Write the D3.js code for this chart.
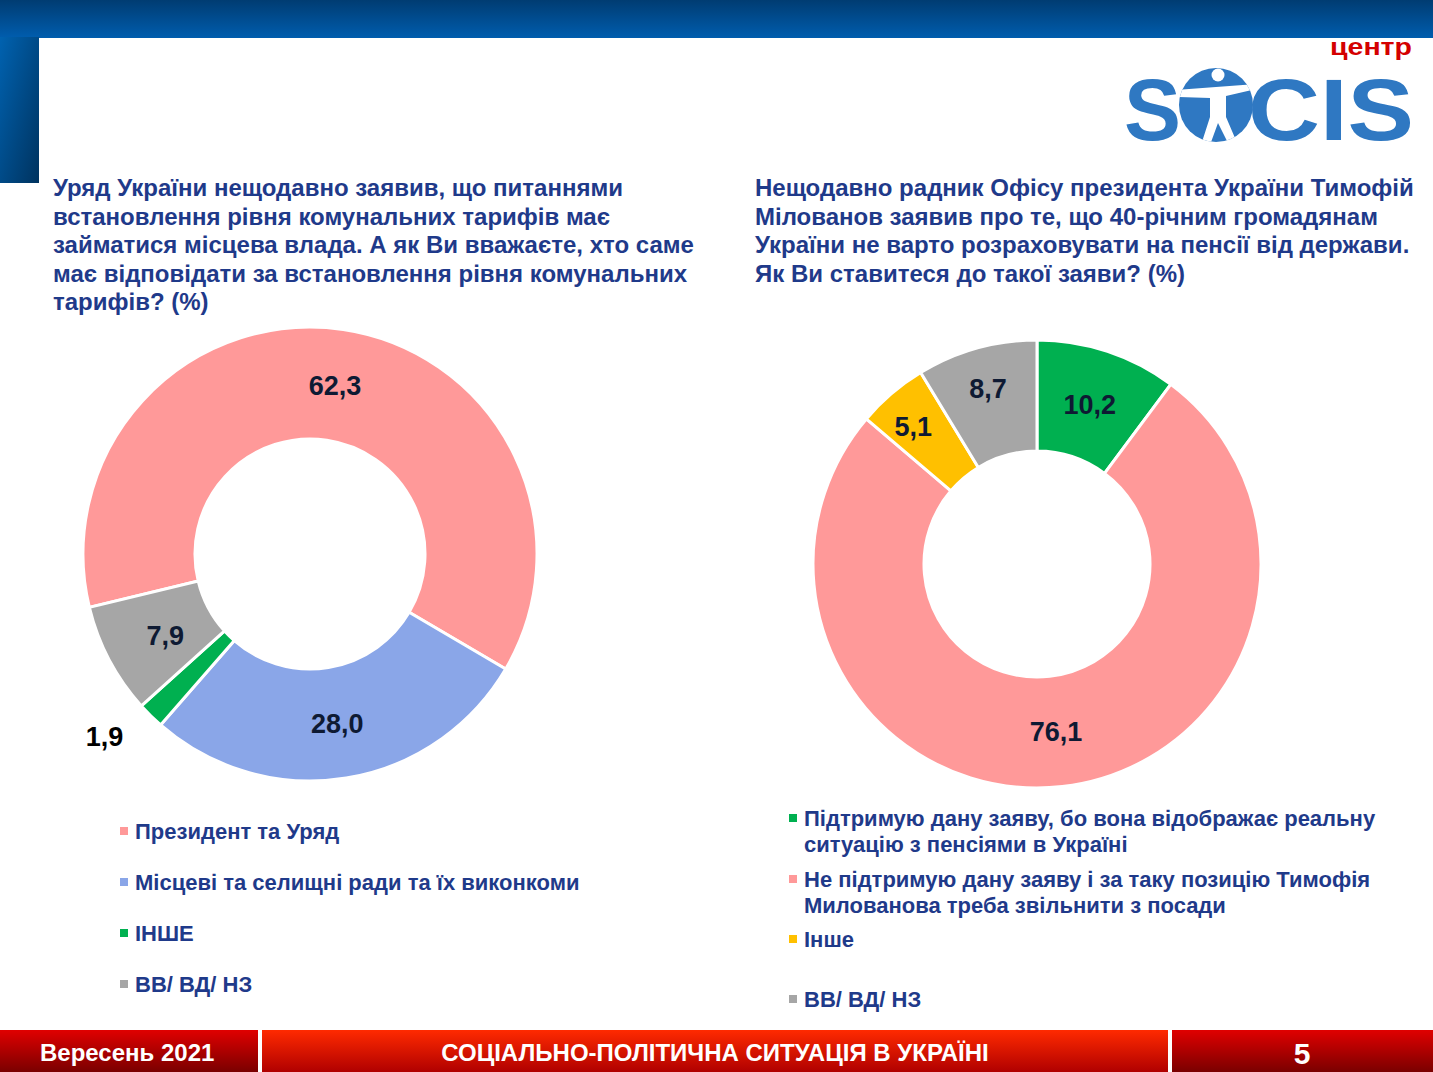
<!DOCTYPE html>
<html><head><meta charset="utf-8">
<script src="https://cdn.jsdelivr.net/npm/d3@7"></script>
<style>body{margin:0;background:#fff;} svg{display:block;font-family:"Liberation Sans",Arial,sans-serif;}</style>
</head><body>
<svg id="c" width="1433" height="1072"></svg>
<script>
// ---- data ----
const leftCategories = ["Президент та Уряд","Місцеві та селищні ради та їх виконкоми","ІНШЕ","ВВ/ ВД/ НЗ"];
const leftValues = [62.3, 28.0, 1.9, 7.9];
const leftLabels = ["62,3","28,0","1,9","7,9"];
const leftColors = ["#FF9999","#8AA6E8","#00B050","#A6A6A6"];

const rightCategories = [
  ["Підтримую дану заяву, бо вона відображає реальну","ситуацію з пенсіями в Україні"],
  ["Не підтримую дану заяву і за таку позицію Тимофія","Милованова треба звільнити з посади"],
  ["Інше"],
  ["ВВ/ ВД/ НЗ"]];
const rightValues = [10.2, 76.1, 5.1, 8.7];
const rightLabels = ["10,2","76,1","5,1","8,7"];
const rightColors = ["#00B050","#FF9999","#FFC000","#A6A6A6"];

const leftTitle = ["Уряд України нещодавно заявив, що питаннями","встановлення рівня комунальних тарифів має","займатися місцева влада. А як Ви вважаєте, хто саме","має відповідати за встановлення рівня комунальних","тарифів? (%)"];
const rightTitle = ["Нещодавно радник Офісу президента України Тимофій","Мілованов заявив про те, що 40-річним громадянам","України не варто розраховувати на пенсії від держави.","Як Ви ставитеся до такої заяви? (%)"];
const footerLeft = "Вересень 2021";
const footerMid = "СОЦІАЛЬНО-ПОЛІТИЧНА СИТУАЦІЯ В УКРАЇНІ";
const footerPage = "5";

const svg = d3.select("#c");
const defs = svg.append("defs");
const TEXT = "#1F3A8A", LBL = "#0E1A33";

// header gradients
const g1 = defs.append("linearGradient").attr("id","hdr").attr("x1",0).attr("y1",0).attr("x2",0).attr("y2",1);
g1.append("stop").attr("offset","0").attr("stop-color","#003C72");
g1.append("stop").attr("offset","1").attr("stop-color","#005DAE");
const g2 = defs.append("linearGradient").attr("id","side").attr("x1",0).attr("y1",0).attr("x2",1).attr("y2",1);
g2.append("stop").attr("offset","0").attr("stop-color","#0062B0");
g2.append("stop").attr("offset","1").attr("stop-color","#00335F");
const g3 = defs.append("linearGradient").attr("id","fmid").attr("x1",0).attr("y1",0).attr("x2",0).attr("y2",1);
g3.append("stop").attr("offset","0").attr("stop-color","#FF2A00");
g3.append("stop").attr("offset","1").attr("stop-color","#B00000");
const g4 = defs.append("linearGradient").attr("id","fside").attr("x1",0).attr("y1",0).attr("x2",0).attr("y2",1);
g4.append("stop").attr("offset","0").attr("stop-color","#E00000");
g4.append("stop").attr("offset","1").attr("stop-color","#7A0000");
defs.append("clipPath").attr("id","logoClip").append("circle").attr("cx",1216).attr("cy",105).attr("r",37);

svg.append("rect").attr("x",0).attr("y",0).attr("width",1433).attr("height",38).attr("fill","url(#hdr)");
svg.append("rect").attr("x",0).attr("y",37).attr("width",39).attr("height",146).attr("fill","url(#side)");

// logo
const blue = "#2F78C2";
const logo = svg.append("g");
logo.append("text").attr("x",1412).attr("y",55).attr("text-anchor","end").attr("fill","#D40000")
  .attr("font-weight","bold").attr("font-size",24).attr("textLength",82).attr("lengthAdjust","spacingAndGlyphs").text("центр");
logo.append("text").attr("x",1124).attr("y",140).attr("fill",blue).attr("font-weight","bold")
  .attr("font-size",88).attr("textLength",57).attr("lengthAdjust","spacingAndGlyphs").text("S");
logo.append("text").attr("x",1248).attr("y",140).attr("fill",blue).attr("font-weight","bold")
  .attr("font-size",88).attr("textLength",166).attr("lengthAdjust","spacingAndGlyphs").text("CIS");
logo.append("circle").attr("cx",1216).attr("cy",105).attr("r",37).attr("fill",blue);
const fig = logo.append("g").attr("clip-path","url(#logoClip)");
fig.append("circle").attr("cx",1218).attr("cy",75).attr("r",6.5).attr("fill","#fff");
fig.append("path").attr("fill","#fff")
  .attr("d","M1176,90 L1256,84 L1256,89 L1226,96 L1226,117 L1238,145 L1229,145 L1218,123 L1210,145 L1201,145 L1210,117 L1210,98 L1176,97 Z");

// titles
function title(lines, x) {
  const t = svg.append("text").attr("fill",TEXT).attr("font-weight","bold").attr("font-size",24);
  lines.forEach((l,i)=> t.append("tspan").attr("x",x).attr("y",196+i*28.5).text(l));
}
title(leftTitle, 53);
title(rightTitle, 755);

// donuts
function donut(cx, cy, rO, rI, values, colors, labels, startDeg, labelR, labelShift) {
  const pie = d3.pie().sort(null).value(d=>d)
    .startAngle(startDeg*Math.PI/180).endAngle(startDeg*Math.PI/180 + 2*Math.PI);
  const arcs = pie(values);
  const arc = d3.arc().innerRadius(rI).outerRadius(rO);
  const g = svg.append("g").attr("transform",`translate(${cx},${cy})`);
  g.selectAll("path").data(arcs).join("path").attr("d",arc)
    .attr("fill",(d,i)=>colors[i]).attr("stroke","#fff").attr("stroke-width",3);
  g.selectAll("text").data(arcs).join("text")
    .attr("transform",(d,i)=>{
      const a=(d.startAngle+d.endAngle)/2 + labelShift[i]*Math.PI/180, r=labelR[i];
      return `translate(${r*Math.sin(a)},${-r*Math.cos(a)})`;})
    .attr("text-anchor","middle").attr("dy","0.36em")
    .attr("fill",(d,i)=> labelR[i]>rO ? "#000" : LBL)
    .attr("font-weight","bold").attr("font-size",27).text((d,i)=>labels[i]);
}
donut(310, 554, 227, 115, leftValues, leftColors, leftLabels, -103.6, [171,171,275,166], [0,0,3.8,-1.5]);
donut(1037, 564, 224, 113, rightValues, rightColors, rightLabels, 0, [168,168,185,182], [0,0,-1.5,0]);

// legends
function legend(items, colors, x, ys) {
  items.forEach((lines,i)=>{
    const arr = Array.isArray(lines)?lines:[lines];
    svg.append("rect").attr("x",x).attr("y",ys[i]-4).attr("width",8).attr("height",8).attr("fill",colors[i]);
    const t = svg.append("text").attr("fill",TEXT).attr("font-weight","bold").attr("font-size",22);
    arr.forEach((l,j)=> t.append("tspan").attr("x",x+15).attr("y",ys[i]+8+j*26).text(l));
  });
}
legend(leftCategories, leftColors, 120, [831,882,933,984]);
legend(rightCategories, rightColors, 789, [818,879,939,999]);

// footer
svg.append("rect").attr("x",0).attr("y",1029).attr("width",1433).attr("height",43).attr("fill","#fff");
svg.append("rect").attr("x",0).attr("y",1030).attr("width",258).attr("height",42).attr("fill","url(#fside)");
svg.append("rect").attr("x",262).attr("y",1030).attr("width",906).attr("height",42).attr("fill","url(#fmid)");
svg.append("rect").attr("x",1172).attr("y",1030).attr("width",261).attr("height",42).attr("fill","url(#fside)");
const ft = (x,txt,anchor,size)=>svg.append("text").attr("x",x).attr("y",1061).attr("text-anchor",anchor)
  .attr("fill","#fff").attr("font-weight","bold").attr("font-size",size).text(txt);
ft(40, footerLeft, "start", 24);
ft(715, footerMid, "middle", 24);
ft(1302, footerPage, "middle", 30).attr("y",1064);
</script>
</body></html>
